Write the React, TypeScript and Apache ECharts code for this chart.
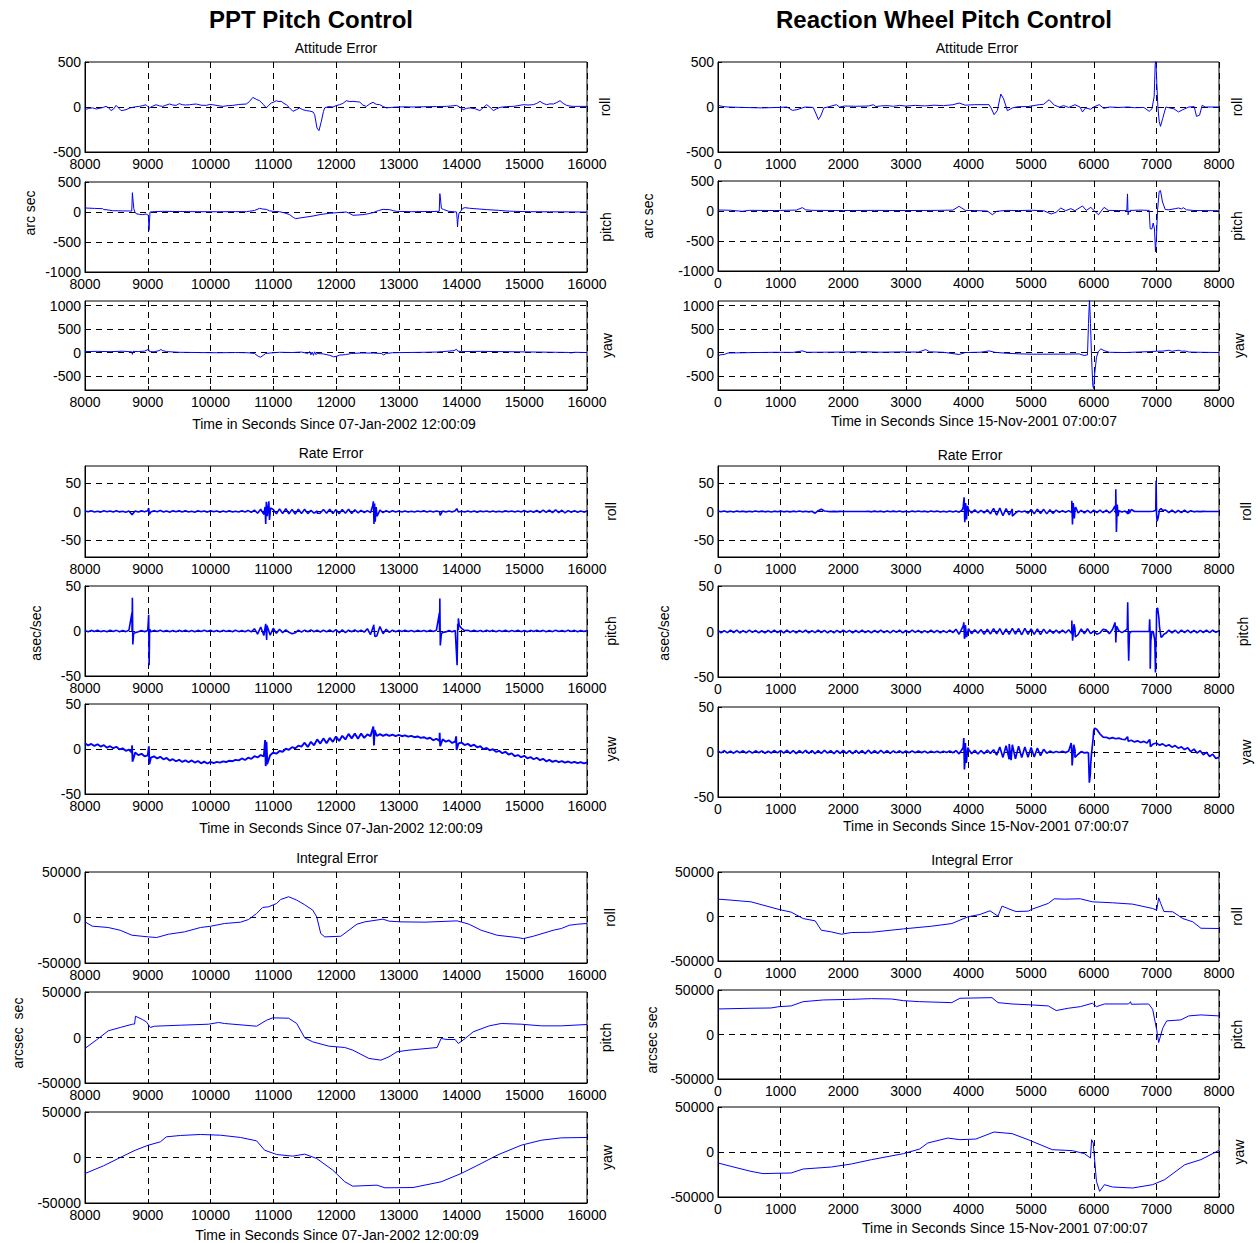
import React, { useEffect, useRef } from 'react';
import * as echarts from 'echarts';

const FONT = '"Liberation Sans", Arial, Helvetica, sans-serif';
const BLUE = '#0000ff';

// ---------- x ranges / ticks ----------
const PPT_X = [8000, 16000];
const RW_X = [0, 8000];
const X_STEP_TICK = 1000;

// ---------- y axis specs ----------
const Y_ATT_ROLL = { min: -500, max: 500, labels: [-500, 0, 500], grid: [0] };
const Y_ATT_PITCH = { min: -1000, max: 500, labels: [-1000, -500, 0, 500], grid: [-500, 0] };
const Y_ATT_YAW = { min: -800, max: 1100, labels: [-500, 0, 500, 1000], grid: [-500, 0, 500, 1000] };
const Y_RATE_ROLL = { min: -80, max: 80, labels: [-50, 0, 50], grid: [-50, 0, 50] };
const Y_RATE = { min: -50, max: 50, labels: [-50, 0, 50], grid: [0] };
const Y_INT = { min: -50000, max: 50000, labels: [-50000, 0, 50000], grid: [0] };

// ---------- PPT attitude error (arc sec) ----------
const pptAttRoll = [[8000,-30],[8060,-15],[8122,-10],[8180,-22],[8229,-15],[8290,-5],[8335,7],[8380,-10],[8415,-40],[8460,-20],[8495,18],[8535,-10],[8575,-40],[8620,-35],[8654,-30],[8710,-12],[8760,-4],[8810,3],[8867,7],[8920,15],[8973,25],[9000,5],[9027,-10],[9080,10],[9133,25],[9190,12],[9240,7],[9290,20],[9346,33],[9400,22],[9452,18],[9480,30],[9505,37],[9550,26],[9600,22],[9665,25],[9720,30],[9772,33],[9850,20],[9931,18],[9990,28],[10038,25],[10120,15],[10197,7],[10280,15],[10357,18],[10450,28],[10570,33],[10620,60],[10676,107],[10730,85],[10782,70],[10840,30],[10889,-10],[10930,20],[10968,44],[11010,55],[11048,70],[11090,60],[11128,63],[11170,40],[11208,26],[11260,-10],[11314,-48],[11370,-30],[11420,-10],[11470,-30],[11527,-40],[11580,-45],[11633,-55],[11660,-85],[11697,-233],[11729,-263],[11766,-160],[11800,-50],[11820,-10],[11880,5],[11952,0],[12000,15],[12059,26],[12110,40],[12165,70],[12220,60],[12272,63],[12330,58],[12378,55],[12430,20],[12484,7],[12540,35],[12590,52],[12640,30],[12697,26],[12750,5],[12803,-10],[12880,-5],[12963,0],[13100,2],[13229,0],[13400,3],[13600,5],[13761,7],[13850,12],[13921,18],[13970,0],[14027,-30],[14080,-15],[14134,-10],[14220,-20],[14293,-40],[14350,-5],[14400,26],[14450,0],[14506,-40],[14560,-20],[14612,-4],[14720,5],[14825,7],[14900,15],[14985,26],[15060,22],[15144,26],[15200,40],[15251,63],[15300,40],[15357,26],[15410,35],[15463,33],[15520,50],[15570,70],[15620,40],[15676,18],[15730,10],[15782,7],[15889,7],[16000,7]];
const pptAttPitch = [[8000,67],[8150,60],[8282,55],[8300,40],[8335,39],[8442,22],[8600,18],[8708,17],[8745,15],[8755,322],[8765,200],[8778,55],[8795,0],[8814,-28],[8870,-40],[8920,-44],[8973,-33],[9010,-55],[9020,-306],[9028,-150],[9036,0],[9100,5],[9240,11],[9500,8],[9800,5],[10100,4],[10400,6],[10570,5],[10700,25],[10782,61],[10830,50],[10889,44],[10940,20],[10995,11],[11100,5],[11180,-15],[11261,-44],[11320,-90],[11357,-111],[11420,-100],[11520,-85],[11633,-67],[11760,-40],[11899,-22],[12050,-8],[12165,0],[12220,-25],[12272,-55],[12350,-50],[12431,-44],[12510,-30],[12590,-11],[12680,25],[12750,44],[12856,39],[12920,20],[12963,11],[13200,5],[13500,8],[13645,11],[13655,306],[13667,200],[13680,60],[13710,44],[13800,10],[13921,0],[13930,-111],[13937,-250],[13945,-120],[13960,-20],[13985,11],[14020,60],[14054,72],[14130,62],[14214,55],[14400,40],[14586,28],[14700,18],[14825,11],[15100,5],[15400,3],[15700,2],[16000,0]];
const pptAttYaw = [[8000,20],[8200,25],[8400,18],[8600,28],[8745,15],[8755,-40],[8765,25],[8850,20],[8950,30],[9015,70],[9025,20],[9100,15],[9180,40],[9210,65],[9240,40],[9300,20],[9500,5],[9800,0],[10100,-5],[10400,0],[10600,-5],[10700,-20],[10760,-80],[10800,-100],[10840,-60],[10880,-20],[10950,-10],[11100,5],[11300,0],[11450,10],[11550,-20],[11580,20],[11600,-50],[11620,10],[11640,-60],[11660,15],[11680,-45],[11700,-20],[11800,-30],[11900,-60],[11960,-90],[12000,-85],[12060,-55],[12150,-45],[12250,-20],[12400,-10],[12600,-12],[12720,-20],[12760,-50],[12800,-20],[12900,-5],[13100,0],[13400,5],[13600,10],[13700,20],[13800,30],[13880,40],[13920,70],[13940,30],[14000,20],[14300,25],[14600,20],[14900,15],[15200,10],[15500,5],[15700,2],[15750,-8],[15800,5],[16000,0]];

// ---------- RW attitude error (arc sec) ----------
const rwAttRoll = [[0,18],[80,5],[160,0],[400,-5],[700,-10],[960,-5],[1100,0],[1187,-37],[1260,-30],[1390,0],[1520,-5],[1560,-67],[1603,-140],[1640,-100],[1690,-10],[1770,3],[1890,26],[1940,0],[2020,11],[2200,8],[2400,11],[2480,25],[2520,5],[2600,12],[2700,15],[2800,8],[2900,18],[3000,10],[3150,18],[3300,12],[3450,20],[3600,15],[3750,25],[3850,44],[3950,20],[4100,26],[4329,26],[4360,-10],[4409,-85],[4460,-40],[4516,144],[4560,90],[4622,-41],[4700,-10],[4790,3],[4950,5],[5130,26],[5200,30],[5288,81],[5370,20],[5450,0],[5520,15],[5600,-5],[5700,25],[5780,0],[5820,-55],[5870,-10],[5950,-25],[6000,0],[6087,26],[6160,-15],[6250,0],[6400,-5],[6550,0],[6650,-8],[6800,-5],[6885,-48],[6930,-20],[6965,120],[6981,470],[6992,520],[7008,250],[7024,0],[7045,-159],[7066,-215],[7100,-130],[7152,0],[7210,-10],[7280,-20],[7353,-55],[7420,-30],[7520,0],[7604,5],[7641,-104],[7690,-90],[7731,18],[7780,0],[8000,0]];
const rwAttPitch = [[0,17],[200,12],[389,-5],[500,11],[900,8],[1250,15],[1347,56],[1400,20],[1500,11],[2000,8],[2500,10],[3000,8],[3500,10],[3750,15],[3850,78],[3950,10],[4100,8],[4300,0],[4382,-62],[4450,-5],[4600,10],[4800,8],[5000,12],[5200,5],[5320,-50],[5400,-20],[5474,50],[5550,5],[5634,39],[5700,5],[5820,84],[5880,10],[5953,61],[6007,5],[6076,-62],[6120,0],[6166,61],[6230,10],[6400,8],[6528,5],[6539,285],[6548,-62],[6560,-20],[6580,10],[6750,15],[6885,10],[6901,-295],[6928,-300],[6949,-200],[6970,-300],[6986,-677],[7003,-400],[7018,0],[7045,330],[7066,340],[7098,150],[7141,25],[7200,20],[7300,39],[7353,50],[7400,35],[7430,55],[7480,20],[7600,8],[8000,5]];
const rwAttYaw = [[0,-70],[50,-45],[100,-42],[160,-10],[300,-7],[600,0],[900,5],[1200,3],[1347,35],[1420,5],[1700,7],[2000,10],[2300,15],[2600,7],[2900,12],[3200,10],[3317,63],[3380,15],[3600,5],[3850,-42],[3950,0],[4200,7],[4329,35],[4420,5],[4600,-15],[4808,-28],[5000,-35],[5300,-35],[5600,-33],[5767,-30],[5847,-63],[5900,-50],[5916,620],[5932,1150],[5948,620],[5965,-100],[5985,-707],[5998,-770],[6017,-427],[6044,-100],[6076,28],[6114,77],[6166,40],[6250,5],[6500,0],[6700,10],[6900,20],[7000,28],[7100,30],[7205,49],[7250,25],[7300,40],[7364,49],[7400,30],[7470,30],[7520,10],[7700,5],[8000,0]];

// ---------- rate error (asec/sec): samples every 50 s, plus transients ----------
const RATE_STEP = 50;
const pptRateRoll = [0.8,-0.6,1.2,-0.9,0.5,-1.1,1.4,-0.4,0.9,-1.0,1.3,-0.7,0.6,-1.2,0.9,-5.5,1.0,-0.8,1.1,-0.5,1.5,-0.9,1.2,-0.6,1.6,-1.0,0.7,-1.2,1.4,-0.5,1.1,-0.8,1.5,-0.9,0.6,-1.3,1.2,-0.4,0.9,-1.1,1.4,-0.6,0.8,-1.2,1.0,-0.7,1.3,-0.9,0.5,-1.0,1.2,-0.8,1.6,-1.4,2.5,-3.0,4.0,-5.0,3.0,-4.0,3.5,-4.2,4.5,-3.8,4.8,-4.0,3.6,-4.4,4.1,-3.5,4.0,-3.7,2.0,-3.0,1.0,-2.8,3.5,-3.2,3.8,-3.6,3.3,-3.9,3.6,-3.1,4.0,-3.4,3.0,-2.5,2.0,-1.8,1.5,-2.0,3.0,-4.0,2.5,-2.0,1.5,-1.2,1.3,-1.0,0.9,-0.7,1.0,-0.8,0.6,-1.0,0.8,-0.6,1.1,-0.9,0.7,-1.0,0.9,-0.6,1.0,-0.8,0.8,-0.7,1.2,-0.9,0.6,-0.9,1.0,-0.7,0.8,-1.1,0.7,-0.6,0.9,-0.8,1.0,-0.7,0.6,-0.9,1.1,-0.5,0.8,-1.0,0.7,-0.8,1.6,-1.1,0.9,-1.3,1.8,-1.9,2.4,-1.7,2.6,-2.0,2.8,-1.8,2.2,-2.4,1.6,-1.2,1.5,-1.3,1.0,-1.1,0.8];
const pptRateRollSpikes = [[8755,-6],[9015,6],[9025,-5],[10870,8],[10880,-22],[10890,17],[10905,-8],[10930,18],[10940,-15],[10955,6],[11700,-3],[12585,10],[12595,18],[12605,-22],[12615,14],[12625,-18],[12640,8],[12655,-8],[13660,-7],[13925,5]];
const pptRatePitch = [0.6,-0.8,0.7,-0.5,0.9,-0.7,0.4,-0.9,0.8,-0.6,0.7,-0.8,0.5,-0.7,0.9,-0.8,-1.8,-0.9,0.6,-0.7,0.5,-0.8,0.7,-0.6,0.9,-0.7,0.5,-0.8,0.6,-0.9,0.7,-0.5,0.8,-0.7,0.6,-0.9,0.7,-0.6,0.8,-0.5,0.9,-0.7,0.6,-0.8,0.7,-0.6,0.5,-0.9,0.8,-0.7,0.6,-0.8,0.9,-1.0,2.5,-3.5,4.5,-5.0,6.0,-4.5,3.0,-2.5,2.0,-1.8,1.2,-1.5,-3.0,-2.0,1.0,-1.2,1.0,-0.9,1.2,-0.8,1.0,-1.1,0.8,-0.9,1.3,-1.0,1.5,-2.0,1.2,-1.8,1.0,-0.9,1.1,-0.8,1.0,-1.2,2.5,-4.0,6.0,-5.5,5.0,-3.0,2.0,-1.5,1.0,-0.8,0.7,-0.6,0.8,-0.5,0.6,-0.8,0.7,-0.6,0.5,-0.7,0.8,-0.6,0.7,-0.8,-1.5,-1.0,0.6,-0.8,0.5,1.0,3.0,0.5,0.8,-0.6,0.7,-0.5,0.6,-0.7,0.8,-0.6,0.7,-0.8,0.5,-0.6,0.9,-0.7,0.6,-0.5,0.8,-0.7,0.6,-0.8,0.7,-0.6,0.9,-0.5,0.7,-0.8,0.6,-0.7,0.8,-0.6,0.5,-0.7,0.9,-0.6,0.7,-0.8,0.6,-0.5,0.4];
const pptRatePitchSpikes = [[8748,20],[8755,37],[8762,-15],[8775,-3],[9015,18],[9022,-38],[9030,2],[10880,8],[10895,-10],[12600,7],[12620,-6],[13648,20],[13655,36],[13662,-16],[13680,-3],[13930,-38],[13940,8],[13950,14],[13965,6]];
const pptRateYaw = [6.5,4.0,5.6,3.4,5.3,2.7,4.3,1.5,3.1,0.9,2.5,-0.4,0.8,-2.0,-0.7,-4.4,-3.9,-6.8,-5.3,-8.1,-7.0,-9.7,-8.2,-10.5,-8.7,-11.4,-9.9,-12.8,-11.3,-13.6,-12.0,-14.4,-12.7,-14.7,-12.7,-15.1,-13.3,-15.9,-14.1,-16.1,-14.4,-15.6,-14.3,-15.1,-13.7,-14.5,-13.0,-13.6,-12.1,-12.6,-10.5,-12.2,-9.7,-11.0,-8.0,-9.4,-6.7,-8.3,-5.8,-6.9,-4.0,-5.2,-2.2,-3.0,0.3,-0.9,2.1,0.7,3.7,2.7,7.0,2.2,8.0,4.1,10.7,6.0,11.8,6.4,12.3,8.0,13.8,9.0,14.6,10.6,16.8,11.8,17.1,11.5,17.1,12.3,16.2,14.3,16.4,14.5,16.5,14.6,16.3,14.5,16.0,14.4,15.6,14.2,15.2,13.7,14.6,13.1,13.9,12.4,13.1,11.4,12.5,9.8,11.3,9.0,10.8,8.1,9.6,6.7,8.2,5.9,7.3,4.4,5.7,3.2,4.8,1.9,3.1,-0.1,1.1,-1.5,-0.2,-3.2,-2.0,-4.6,-3.1,-6.1,-4.9,-8.0,-6.7,-9.1,-7.6,-10.4,-9.0,-11.4,-9.7,-12.4,-10.9,-13.7,-12.1,-14.3,-12.8,-14.5,-13.4,-15.1,-13.9,-15.5,-14.3,-15.8,-14.5,-15.9,-15.0];
const pptRateYawSpikes = [[8750,4],[8758,-14],[9018,3],[9025,-17],[10870,10],[10880,-19],[10892,8],[10902,-17],[12595,25],[12605,4],[12615,21],[13652,18],[13660,3],[13915,14],[13922,-1]];

const rwRateRoll = [0.6,-0.5,0.8,-0.7,0.5,-0.8,0.7,-0.4,0.6,-0.7,0.5,-0.6,0.8,-0.5,0.7,-0.6,0.4,-0.8,0.6,-0.5,0.7,-0.6,0.5,-0.7,0.6,-0.4,0.8,-0.6,0.5,-0.7,0.4,-3.0,1.5,4.0,1.0,0.3,-0.2,0.3,-0.2,0.2,0.1,0,0.1,-0.1,0,0.1,0,-0.1,0.5,-0.6,0.7,-0.5,0.6,-0.8,0.9,-0.6,0.7,-0.5,0.8,-0.7,0.6,-0.8,0.7,-0.6,0.9,-0.5,0.6,-0.7,0.8,-0.6,0.7,-0.9,0.6,-0.8,0.9,-0.7,1.0,-1.2,3.0,-4.0,3.5,-2.5,2.8,-2.2,2.0,-2.6,3.0,-4.0,5.5,-6.5,6.0,-7.5,5.0,-6.0,4.5,-3.0,1.0,-0.8,0.9,-3.0,3.5,-4.0,4.2,-3.5,3.8,-4.2,3.0,-3.6,2.5,-1.5,1.2,-1.4,1.5,-2.0,3.0,-2.5,2.2,-2.6,2.0,-2.4,2.5,-2.0,2.4,-2.2,2.6,-2.5,2.0,-3.0,1.5,-1.0,0.8,-4.0,3.5,0,0,0,0,0,0,0.5,20,3,2,2.5,-2.0,2.4,-2.2,1.8,-2.0,2.5,-1.8,1.5,-0.6,0.3,-0.2,0.2,-0.1,0.1,0,0.1,0];
const rwRateRollSpikes = [[3915,8],[3930,25],[3940,-19],[3955,15],[3968,-14],[3985,10],[4700,-8],[5650,19],[5660,-23],[5672,15],[5690,-12],[5710,8],[6340,10],[6352,39],[6362,-36],[6375,12],[6390,-8],[6560,4],[6570,-3],[6990,2],[6996,54],[7003,-5],[7012,-17],[7030,-10],[7075,5]];
const rwRatePitch = [1.2,-1.5,0.9,-1.3,1.6,-1.1,1.4,-1.6,1.0,-1.2,1.5,-1.0,1.3,-1.4,0.8,-1.5,1.2,-1.1,1.6,-1.3,1.1,-1.4,1.5,-1.2,0.9,-1.6,1.3,-1.0,1.4,-1.5,1.0,-1.3,1.6,-1.1,1.2,-1.4,0.9,-1.5,1.3,-1.2,1.5,-1.0,1.2,-1.6,1.1,-1.3,1.4,-1.2,0.8,-1.4,1.3,-1.1,1.5,-1.3,1.0,-1.6,1.2,-1.0,1.4,-1.5,1.1,-1.2,1.6,-1.0,1.3,-1.4,0.9,-1.3,1.5,-1.1,1.2,-1.5,1.0,-1.3,1.4,-1.2,2.5,-3.0,4.0,-5.0,3.0,-2.5,2.0,-1.8,2.2,-3.0,2.5,-2.8,3.0,-2.6,3.2,-3.5,3.0,-3.2,3.4,-3.0,3.3,-3.6,3.5,-3.1,3.0,-3.2,2.8,-3.4,2.6,-2.2,1.8,-2.0,1.5,-1.8,1.5,-1.6,2.0,-2.5,3.0,-3.5,2.8,-2.6,3.0,-2.4,0.5,-3.0,-1.5,2.5,1.5,-2.5,2.4,-2.6,1.0,-1.2,0.8,-1.0,0,0,0,0,0,0,0,0,0,5,-5,-2,1.5,-1.6,1.4,-1.8,1.6,-1.3,1.5,-1.4,1.2,-1.6,1.3,-1.1,1.5,-1.2,1.4,-1.0,0.8];
const rwRatePitchSpikes = [[3915,6],[3925,10],[3935,-8],[3950,7],[3970,-6],[5650,12],[5662,-10],[5685,8],[5705,-6],[6340,10],[6352,-12],[6365,6],[6535,3],[6542,32],[6550,-10],[6558,-32],[6570,-2],[6885,0],[6893,13.5],[6902,-41],[6912,-10],[6930,0],[6975,-10],[6985,-45],[6993,-10],[7003,23],[7020,26],[7040,15],[7075,-6.5],[7120,-3]];
const rwRateYaw = [1.2,-1.0,1.4,-1.2,0.8,-1.3,1.1,-0.9,1.3,-1.1,1.0,-1.2,1.3,-0.8,1.2,-1.4,0.9,-1.1,1.4,-1.0,1.5,-1.3,1.8,-1.6,1.4,-1.8,1.6,-1.2,1.7,-1.5,1.6,-1.7,1.4,-1.5,1.8,-1.3,1.5,-1.8,1.6,-1.4,1.8,-1.6,1.5,-1.9,1.7,-1.4,1.6,-1.8,2.0,-1.5,1.6,-1.4,1.8,-1.2,1.5,-1.6,1.2,-1.0,1.3,-1.1,1.0,-0.9,1.1,-0.8,1.0,-0.7,0.9,-1.0,0.8,-0.6,0.7,-0.8,0.9,-0.6,1.0,-0.8,1.5,-2.0,3.0,-4.0,3.0,-2.0,1.8,-2.2,1.5,-1.8,2.0,-1.5,2.5,-3.5,5.5,-6.0,7.0,-8.0,8.0,-7.5,6.5,-6.0,5.5,-5.8,5.0,-5.5,4.5,-4.0,3.0,-1.5,1.0,-0.8,0.6,-0.5,0.8,-0.7,1.0,-1.5,2.0,-2.5,0.5,-1.0,-0.5,-15,24,25,20,16.5,16.3,14.9,16.0,14.7,15.4,14.2,13.8,12.0,13.0,11.2,12.4,10.6,11.8,10.0,10.8,8.9,10.0,7.6,9.0,6.5,8.1,5.4,7.1,4.2,5.8,2.7,4.8,0.4,3.2,-1.2,1.5,-3.0,-0.4,-5.0,-2.4,-7.1,-6.0];
const rwRateYawSpikes = [[3915,5],[3925,15.5],[3935,-19.5],[3950,10],[3965,-12],[3990,5],[4650,9],[4680,-9],[5640,10],[5655,-15],[5680,8],[5700,-6],[5915,-1],[5930,-34],[5945,-25],[5960,-5],[5975,5],[5990,15],[6015,26.5],[6540,17],[6560,12],[6893,14],[6905,6]];

// ---------- integral error (arcsec sec) ----------
const pptIntRoll = [[8000,-4800],[8115,-9500],[8370,-11000],[8560,-14000],[8750,-19500],[9010,-21300],[9140,-22000],[9330,-18400],[9585,-15800],[9840,-11000],[10000,-9600],[10224,-6600],[10480,-5100],[10607,-2200],[10735,4400],[10830,11000],[10926,11800],[11054,15400],[11118,19800],[11246,22800],[11374,19100],[11501,14000],[11629,8100],[11693,700],[11757,-17600],[11821,-21300],[12077,-20600],[12332,-7400],[12460,-4800],[12748,-1800],[12844,-4000],[13035,-4800],[13419,-5100],[13930,-3700],[14122,-7400],[14313,-14000],[14569,-19500],[14888,-22000],[14984,-23200],[15144,-20600],[15463,-14000],[15591,-12100],[15719,-8500],[15847,-7400],[16000,-6600]];
const pptIntPitch = [[8000,-12000],[8179,-2900],[8370,7300],[8562,11000],[8754,14600],[8790,14800],[8805,23400],[8914,19800],[8978,17200],[9041,11000],[9105,12400],[9521,13500],[9968,14600],[10128,16500],[10224,15400],[10735,12400],[10894,19000],[10990,21600],[11246,21200],[11374,15400],[11502,-400],[11630,-4800],[11886,-9500],[12140,-11000],[12268,-13900],[12524,-23000],[12716,-24900],[12844,-21200],[12972,-15700],[13163,-13900],[13611,-11000],[13675,-1100],[13770,-2200],[13898,-2200],[13949,-6600],[14058,-1100],[14186,6200],[14441,12800],[14633,15400],[14952,14600],[15272,12800],[15592,12800],[16000,14300]];
const pptIntYaw = [[8000,-17600],[8300,-9000],[8562,0],[8800,8000],[9010,13500],[9200,17200],[9297,22700],[9521,24200],[9840,25300],[10160,24500],[10480,22000],[10735,18300],[10863,8000],[11054,3300],[11310,1500],[11502,3700],[11693,-1100],[11949,-13900],[12141,-26700],[12268,-31500],[12652,-30400],[12780,-33300],[13227,-33000],[13675,-26700],[13994,-17600],[14313,-6600],[14569,2600],[14952,13500],[15272,19000],[15591,21600],[16000,22000]];
const rwIntRoll = [[0,19500],[205,18400],[526,16500],[975,7900],[1168,4900],[1360,-2300],[1552,-4900],[1649,-15400],[1809,-17300],[1969,-19900],[2130,-18000],[2451,-17700],[2964,-13900],[3413,-10900],[3734,-7900],[3990,-400],[4183,2300],[4343,6400],[4407,3400],[4471,400],[4535,11700],[4696,7100],[4760,5600],[4952,6000],[5017,8300],[5273,14700],[5369,19900],[5530,19500],[5786,19900],[5979,16500],[6300,15400],[6620,13900],[6941,9000],[7005,7100],[7037,21000],[7069,14700],[7121,5600],[7261,5300],[7422,-2300],[7582,-6000],[7711,-13200],[8000,-13500]];
const rwIntPitch = [[0,28700],[526,29500],[847,29800],[975,31300],[1168,32100],[1360,36900],[1681,38800],[2130,39500],[2451,40300],[2771,39900],[2964,38000],[3220,36900],[3734,35800],[3862,40700],[4375,41400],[4471,35800],[4696,34300],[5017,33200],[5273,32100],[5401,26900],[5594,29500],[5786,31300],[5979,35100],[6043,31300],[6171,34300],[6556,34300],[6588,36900],[6600,34000],[6877,34300],[6941,28300],[7005,5200],[7037,-9000],[7101,7100],[7165,15300],[7390,16400],[7518,20900],[7711,22000],[8000,20900]];
const rwIntYaw = [[0,-12200],[205,-15900],[526,-21500],[718,-24000],[1168,-23300],[1360,-18900],[1809,-16700],[2130,-13300],[2451,-8500],[2964,-1800],[3220,3300],[3349,10000],[3669,15500],[3862,13700],[4118,14400],[4407,22200],[4696,20400],[4952,13700],[5337,2600],[5658,1500],[5850,-1800],[5947,-6700],[5966,13700],[5992,10000],[6043,-32600],[6094,-43700],[6171,-36300],[6300,-38900],[6620,-40000],[6941,-36300],[7133,-30700],[7454,-14100],[7711,-8500],[8000,1800]];

function sampled(start: number, vals: number[], spikes: number[][]) {
  const pts = vals.map((v, i) => [start + i * RATE_STEP, v]);
  return pts.concat(spikes).sort((a, b) => a[0] - b[0]);
}

const COLS = [
  { left: 85, width: 502, x: PPT_X },
  { left: 718, width: 501, x: RW_X },
];

type Panel = { col: number; top: number; h: number; y: any; data: number[][]; side: string; sx: number; lw: number };

const PANELS: Panel[] = [
  { col: 0, top: 62, h: 90, y: Y_ATT_ROLL, data: pptAttRoll, side: 'roll', sx: 605, lw: 1 },
  { col: 0, top: 182, h: 90, y: Y_ATT_PITCH, data: pptAttPitch, side: 'pitch', sx: 606, lw: 1 },
  { col: 0, top: 301, h: 89, y: Y_ATT_YAW, data: pptAttYaw, side: 'yaw', sx: 607, lw: 1 },
  { col: 1, top: 62, h: 90, y: Y_ATT_ROLL, data: rwAttRoll, side: 'roll', sx: 1237, lw: 1 },
  { col: 1, top: 181, h: 90, y: Y_ATT_PITCH, data: rwAttPitch, side: 'pitch', sx: 1237, lw: 1 },
  { col: 1, top: 301, h: 89, y: Y_ATT_YAW, data: rwAttYaw, side: 'yaw', sx: 1239, lw: 1 },
  { col: 0, top: 466, h: 91, y: Y_RATE_ROLL, data: sampled(PPT_X[0], pptRateRoll, pptRateRollSpikes), side: 'roll', sx: 611, lw: 1.6 },
  { col: 0, top: 586, h: 90, y: Y_RATE, data: sampled(PPT_X[0], pptRatePitch, pptRatePitchSpikes), side: 'pitch', sx: 611, lw: 1.6 },
  { col: 0, top: 704, h: 90, y: Y_RATE, data: sampled(PPT_X[0], pptRateYaw, pptRateYawSpikes), side: 'yaw', sx: 611, lw: 1.9 },
  { col: 1, top: 466, h: 91, y: Y_RATE_ROLL, data: sampled(RW_X[0], rwRateRoll, rwRateRollSpikes), side: 'roll', sx: 1246, lw: 1.6 },
  { col: 1, top: 586, h: 91, y: Y_RATE, data: sampled(RW_X[0], rwRatePitch, rwRatePitchSpikes), side: 'pitch', sx: 1243, lw: 1.6 },
  { col: 1, top: 707, h: 90, y: Y_RATE, data: sampled(RW_X[0], rwRateYaw, rwRateYawSpikes), side: 'yaw', sx: 1246, lw: 1.7 },
  { col: 0, top: 872, h: 91, y: Y_INT, data: pptIntRoll, side: 'roll', sx: 610, lw: 1 },
  { col: 0, top: 992, h: 91, y: Y_INT, data: pptIntPitch, side: 'pitch', sx: 606, lw: 1 },
  { col: 0, top: 1112, h: 91, y: Y_INT, data: pptIntYaw, side: 'yaw', sx: 607, lw: 1 },
  { col: 1, top: 872, h: 89, y: Y_INT, data: rwIntRoll, side: 'roll', sx: 1237, lw: 1 },
  { col: 1, top: 990, h: 89, y: Y_INT, data: rwIntPitch, side: 'pitch', sx: 1237, lw: 1 },
  { col: 1, top: 1107, h: 90, y: Y_INT, data: rwIntYaw, side: 'yaw', sx: 1239, lw: 1 },
];

const TEXTS = [
  { t: 'PPT Pitch Control', x: 311, y: 19, size: 24, bold: true },
  { t: 'Reaction Wheel Pitch Control', x: 944, y: 19, size: 24, bold: true },
  { t: 'Attitude Error', x: 336, y: 48 },
  { t: 'Attitude Error', x: 977, y: 48 },
  { t: 'Rate Error', x: 331, y: 453 },
  { t: 'Rate Error', x: 970, y: 455 },
  { t: 'Integral Error', x: 337, y: 858 },
  { t: 'Integral Error', x: 972, y: 860 },
  { t: 'Time in Seconds Since 07-Jan-2002 12:00:09', x: 334, y: 424 },
  { t: 'Time in Seconds Since 15-Nov-2001 07:00:07', x: 974, y: 421 },
  { t: 'Time in Seconds Since 07-Jan-2002 12:00:09', x: 341, y: 828 },
  { t: 'Time in Seconds Since 15-Nov-2001 07:00:07', x: 986, y: 826 },
  { t: 'Time in Seconds Since 07-Jan-2002 12:00:09', x: 337, y: 1235 },
  { t: 'Time in Seconds Since 15-Nov-2001 07:00:07', x: 1005, y: 1228 },
  { t: 'arc sec', x: 30, y: 213, rot: true },
  { t: 'arc sec', x: 648, y: 216, rot: true },
  { t: 'asec/sec', x: 36, y: 633, rot: true },
  { t: 'asec/sec', x: 664, y: 633, rot: true },
  { t: 'arcsec  sec', x: 18, y: 1033, rot: true },
  { t: 'arcsec sec', x: 652, y: 1040, rot: true },
];

export default function App() {
  const ref = useRef<HTMLDivElement>(null);
  useEffect(() => {
    const chart = echarts.init(ref.current!, null, { renderer: 'svg' });
    const dash = [6, 5];
    const fmt = (v: number) => String(v);
    const grid: any[] = [];
    const xAxis: any[] = [];
    const yAxis: any[] = [];
    const series: any[] = [];
    const graphic: any[] = [];

    PANELS.forEach((p, i) => {
      const c = COLS[p.col];
      grid.push({ left: c.left, top: p.top, width: c.width, height: p.h, show: true, borderColor: '#000', borderWidth: 1, backgroundColor: '#fff' });
      xAxis.push({
        gridIndex: i, type: 'value', min: c.x[0], max: c.x[1], interval: X_STEP_TICK,
        axisLine: { show: true, onZero: false, lineStyle: { color: '#000', width: 1 } },
        axisTick: { show: true, inside: true, length: 4, lineStyle: { color: '#000' } },
        axisLabel: { fontSize: 14, color: '#000', fontFamily: FONT, margin: 5, formatter: fmt, showMinLabel: true, showMaxLabel: true },
        splitLine: { show: true, lineStyle: { color: '#000', type: dash, width: 1 } },
      });
      yAxis.push({
        gridIndex: i, type: 'value', min: p.y.min, max: p.y.max,
        axisLine: { show: true, onZero: false, lineStyle: { color: '#000', width: 1 } },
        axisTick: { show: true, inside: true, length: 4, customValues: p.y.labels, lineStyle: { color: '#000' } },
        axisLabel: { fontSize: 14, color: '#000', fontFamily: FONT, margin: 4, formatter: fmt, customValues: p.y.labels },
        splitLine: { show: false },
      });
      series.push({
        type: 'line', xAxisIndex: i, yAxisIndex: i, data: p.data,
        showSymbol: false, symbol: 'none', silent: true, clip: true, z: 3,
        lineStyle: { color: BLUE, width: p.lw }, itemStyle: { color: BLUE },
        emphasis: { disabled: true },
        markLine: {
          silent: true, symbol: ['none', 'none'], z: 1, animation: false,
          label: { show: false },
          lineStyle: { color: '#000', type: dash, width: 1 },
          emphasis: { disabled: true },
          data: p.y.grid.map((v: number) => ({ yAxis: v })),
        },
      });
      graphic.push({
        type: 'text', x: p.sx, y: p.top + p.h / 2, rotation: Math.PI / 2, silent: true,
        style: { text: p.side, fontSize: 14, fontFamily: FONT, fill: '#000', textAlign: 'center', textVerticalAlign: 'middle' },
      });
    });

    TEXTS.forEach((t: any) => {
      graphic.push({
        type: 'text', x: t.x, y: t.y, rotation: t.rot ? Math.PI / 2 : 0, silent: true,
        style: {
          text: t.t, fontSize: t.size || 14, fontWeight: t.bold ? 'bold' : 'normal', fontFamily: FONT,
          fill: '#000', textAlign: 'center', textVerticalAlign: 'middle',
        },
      });
    });

    chart.setOption({
      animation: false,
      backgroundColor: '#fff',
      grid, xAxis, yAxis, series, graphic,
    });
    return () => chart.dispose();
  }, []);
  return <div ref={ref} style={{ position: 'absolute', left: 0, top: 0, width: 1260, height: 1243, background: '#fff' }} />;
}
